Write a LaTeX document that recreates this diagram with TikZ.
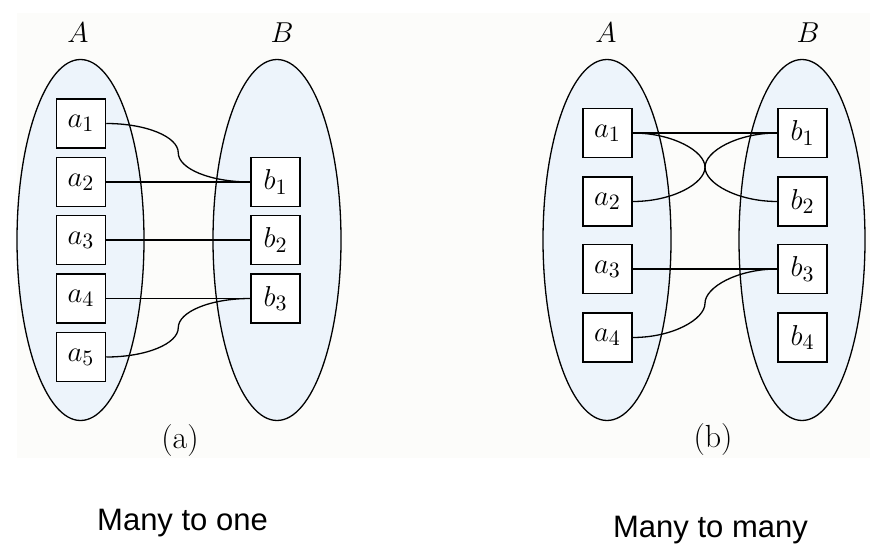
\documentclass[tikz,border=0pt]{standalone}
\usepackage{fontspec}
\usepackage{amsmath}
\usepackage{xcolor}
\usepackage{tikz}
\usetikzlibrary{calc}
\newfontfamily\capfont{Liberation Sans}
\definecolor{paper}{HTML}{FCFCFA}
\definecolor{setfill}{HTML}{EDF4FB}

% S-Kurve von #1 nach #2 (zwei Viertelellipsen), #3 = +1 nach unten, -1 nach oben
\newcommand{\slink}[3]{%
  \draw[link] (#1.east) .. controls +(40,0) and +(0,-16*#3) ..
    ($(#1.east)!.5!(#2.west)$) .. controls +(0,16*#3) and +(-40,0) .. (#2.west);}

\begin{document}
\begin{tikzpicture}[x=0.5pt, y=-0.5pt,
    setshape/.style={fill=setfill, draw=black, line width=0.65pt},
    elem/.style={draw, fill=white, line width=0.75pt, minimum width=24.5pt,
      minimum height=24.5pt, inner sep=0pt, font=\fontsize{15}{17}\selectfont},
    setname/.style={font=\fontsize{14.5}{17}\selectfont},
    link/.style={line width=0.65pt}
]
  \useasboundingbox (0,0) rectangle (887,556);

  % Hintergrund
  \fill[paper] (17,13) rectangle (870,458);

  % (a) many to one
  \draw[setshape] (80.5,240) ellipse (63.5 and 180.5);
  \draw[setshape] (277,240) ellipse (64 and 180.5);
  \node[setname] (lA) at (78,33) {$A$};
  \node[setname] (lB) at (282,33) {$B$};

  \node[elem] (a1) at (81,123.5) {$a_1$};
  \node[elem] (a2) at (81,182) {$a_2$};
  \node[elem] (a3) at (81,240) {$a_3$};
  \node[elem] (a4) at (81,298.5) {$a_4$};
  \node[elem] (a5) at (81,357) {$a_5$};
  \node[elem] (b1) at (275.5,182) {$b_1$};
  \node[elem] (b2) at (275.5,240) {$b_2$};
  \node[elem] (b3) at (275.5,298.5) {$b_3$};

  \slink{a1}{b1}{1}
  \draw[link] (a2) -- (b1);
  \draw[link] (a3) -- (b2);
  \draw[link] (a4) -- (b3);
  \slink{a5}{b3}{-1}

  \node[font=\fontsize{16}{18}\selectfont] (capa) at (180,441) {(a)};
  \node[font=\capfont\fontsize{15.5}{18}\selectfont] (namea) at (182.5,523) {Many to one};

  % (b) many to many
  \draw[setshape] (607,240) ellipse (64 and 180.5);
  \draw[setshape] (802,240) ellipse (63 and 180.5);
  \node[setname] (rA) at (606,33) {$A$};
  \node[setname] (rB) at (808,33) {$B$};

  \node[elem] (c1) at (607.5,133) {$a_1$};
  \node[elem] (c2) at (607.5,201.5) {$a_2$};
  \node[elem] (c3) at (607.5,269) {$a_3$};
  \node[elem] (c4) at (607.5,337.5) {$a_4$};
  \node[elem] (d1) at (802.5,133) {$b_1$};
  \node[elem] (d2) at (802.5,201.5) {$b_2$};
  \node[elem] (d3) at (802.5,269) {$b_3$};
  \node[elem] (d4) at (802.5,337.5) {$b_4$};

  \draw[link] (c1) -- (d1);
  \slink{c1}{d2}{1}
  \slink{c2}{d1}{-1}
  \draw[link] (c3) -- (d3);
  \slink{c4}{d3}{-1}

  \node[font=\fontsize{16}{18}\selectfont] (capb) at (713,440) {(b)};
  \node[font=\capfont\fontsize{15.5}{18}\selectfont] (nameb) at (710.5,530) {Many to many};

\end{tikzpicture}
\end{document}
